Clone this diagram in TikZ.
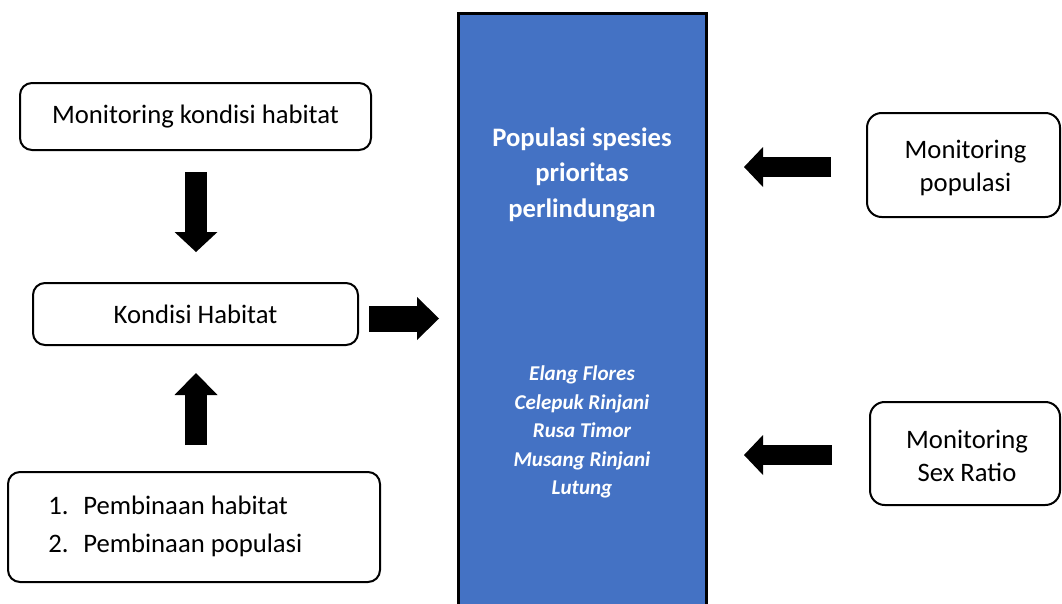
\documentclass[tikz,border=0pt]{standalone}
\usepackage{fontspec}
\setmainfont{Carlito}
\usetikzlibrary{arrows.meta}
\definecolor{popblue}{HTML}{4472C4}
\begin{document}
\begin{tikzpicture}[x=0.75pt,y=-0.75pt,
  box/.style={draw=black, line width=1.5pt, rounded corners=9pt, fill=white,
    align=center, inner sep=0pt, font=\fontsize{20}{24.75}\selectfont},
  blockarr/.style n args={3}{draw=black, line width=#1,
    -{Triangle[length=#2, width=#3, line width'=0pt]}}
]
\useasboundingbox (0,0) rectangle (1062,603);
\clip (0,0) rectangle (1062,603);

% central blue column
\node[draw=black, line width=2.25pt, fill=popblue, minimum width=186pt,
  minimum height=470pt, inner sep=0pt] (pop) at (582,326.5) {};
\node[text=white, align=center, font=\fontsize{20}{26.6}\selectfont\bfseries]
  (poptitle) at (582,174.5) {Populasi spesies\\prioritas\\perlindungan};
\node[text=white, align=center, font=\fontsize{15.8}{21.4}\selectfont\bfseries\itshape]
  (species) at (582,432) {Elang Flores\\Celepuk Rinjani\\Rusa Timor\\Musang Rinjani\\Lutung};

% left boxes
\node[box, minimum width=263.25pt, minimum height=50.25pt] (monhab) at (195.5,116.5)
  {Monitoring kondisi habitat};
\node[box, minimum width=243.75pt, minimum height=46.5pt] (kondisi) at (195.5,314)
  {Kondisi Habitat};
\node[box, minimum width=279pt, minimum height=82.5pt] (pembinaan) at (194,527) {};
\node[anchor=west, align=left, inner sep=0pt, font=\fontsize{20}{28.5}\selectfont]
  (list) at (48,526)
  {\makebox[26.25pt][l]{1.}Pembinaan habitat\\\makebox[26.25pt][l]{2.}Pembinaan populasi};

% right boxes
\node[box, rounded corners=11pt, minimum width=144.75pt, minimum height=78pt] (monpop) at (963.5,165)
  {};
\node[align=center, font=\fontsize{20}{24.75}\selectfont] (monpoptxt) at (965.5,167.5)
  {Monitoring\\populasi};
\node[box, rounded corners=11pt, minimum width=142.5pt, minimum height=77.25pt] (monsex) at (965,453.5)
  {};
\node[align=center, font=\fontsize{20}{24.75}\selectfont] (monsextxt) at (967,455.5)
  {Monitoring\\Sex Ratio};

% arrow end points
\coordinate (a1s) at (196,172);
\coordinate (a1e) at (196,252);
\coordinate (a2s) at (196,445);
\coordinate (a2e) at (196,373);
\coordinate (a3s) at (369,318.5);
\coordinate (a3e) at (439,318.5);
\coordinate (a4s) at (831,167);
\coordinate (a4e) at (744,167);
\coordinate (a5s) at (832,455);
\coordinate (a5e) at (744,455);

\draw[blockarr={16.5pt}{15pt}{32.25pt}] (a1s) -- (a1e);
\draw[blockarr={16.5pt}{16.5pt}{32.25pt}] (a2s) -- (a2e);
\draw[blockarr={19.5pt}{16.5pt}{32.25pt}] (a3s) -- (a3e);
\draw[blockarr={15pt}{14.25pt}{30pt}] (a4s) -- (a4e);
\draw[blockarr={15pt}{14.25pt}{30pt}] (a5s) -- (a5e);
\end{tikzpicture}
\end{document}
